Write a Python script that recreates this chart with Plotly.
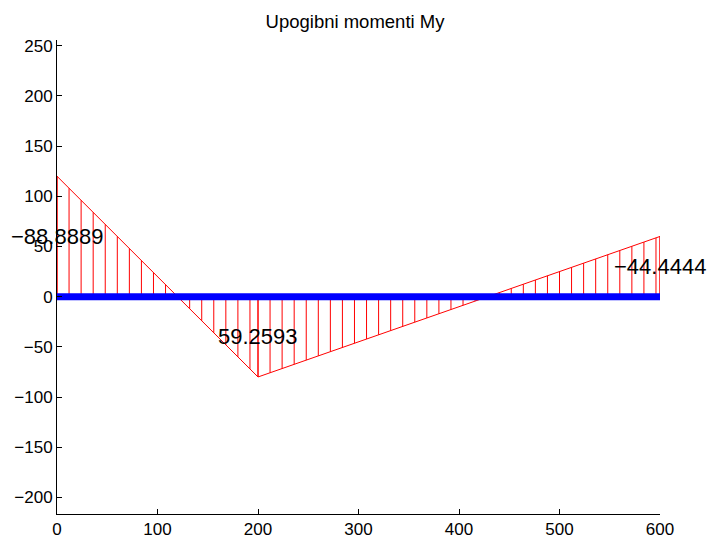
import numpy as np
import plotly.graph_objects as go

# Beam nodes (x positions) and bending moments My at each node
node_x = [0, 200, 600]
moments = [-88.8889, 59.2593, -44.4444]
moment_labels = ["\u221288.8889", "59.2593", "\u221244.4444"]

# Drawing scale of the moment diagram and spacing of the hatch lines
scale = 1.35
hatch_step = 12

node_x = np.array(node_x, dtype=float)
ordinate = -scale * np.array(moments)

# Diagram outline: closing verticals at both beam ends
outline_x = [node_x[0]] + list(node_x) + [node_x[-1]]
outline_y = [0.0] + list(ordinate) + [0.0]

# Vertical hatch lines, laid out per element from its start node
hx, hy = [], []
for i in range(len(node_x) - 1):
    x1, x2 = node_x[i], node_x[i + 1]
    xs = list(np.arange(x1, x2, hatch_step)) + [x2]
    for xv in xs:
        yv = np.interp(xv, node_x, ordinate)
        hx += [xv, xv, None]
        hy += [0.0, yv, None]

fig = go.Figure()
fig.add_trace(go.Scatter(x=hx, y=hy, mode="lines",
                         line=dict(color="#ff0000", width=1),
                         hoverinfo="skip", showlegend=False))
fig.add_trace(go.Scatter(x=outline_x, y=outline_y, mode="lines",
                         line=dict(color="#ff0000", width=1),
                         showlegend=False))
# The beam itself
fig.add_trace(go.Scatter(x=[node_x[0], node_x[-1]], y=[0, 0], mode="lines",
                         line=dict(color="#0000ff", width=7),
                         showlegend=False))

# Moment values written at half the diagram height over each node
for xv, yv, txt in zip(node_x, ordinate, moment_labels):
    fig.add_annotation(x=xv, y=yv / 2, text=txt, showarrow=False,
                       xanchor="center", yanchor="middle",
                       font=dict(family="Liberation Sans, Arial", size=22,
                                 color="black"))

axis_common = dict(showline=True, linecolor="black", linewidth=1,
                   ticks="inside", ticklen=5, tickcolor="black",
                   showgrid=False, zeroline=False, mirror=False,
                   automargin=False,
                   tickfont=dict(family="Liberation Sans, Arial", size=17,
                                 color="black"))

fig.update_layout(
    width=710, height=540,
    margin=dict(l=57, r=50, t=40, b=26),
    paper_bgcolor="white", plot_bgcolor="white",
    title=dict(text="Upogibni momenti My", x=0.5, xanchor="center",
               y=1 - 22 / 540, yanchor="middle",
               font=dict(family="Liberation Sans, Arial", size=18.5,
                         color="black")),
    xaxis=dict(range=[0, 600], tickvals=[0, 100, 200, 300, 400, 500, 600],
               **axis_common),
    yaxis=dict(range=[-216.5, 255.7],
               tickvals=[-200, -150, -100, -50, 0, 50, 100, 150, 200, 250],
               **axis_common),
)

fig.write_html("out.html")
